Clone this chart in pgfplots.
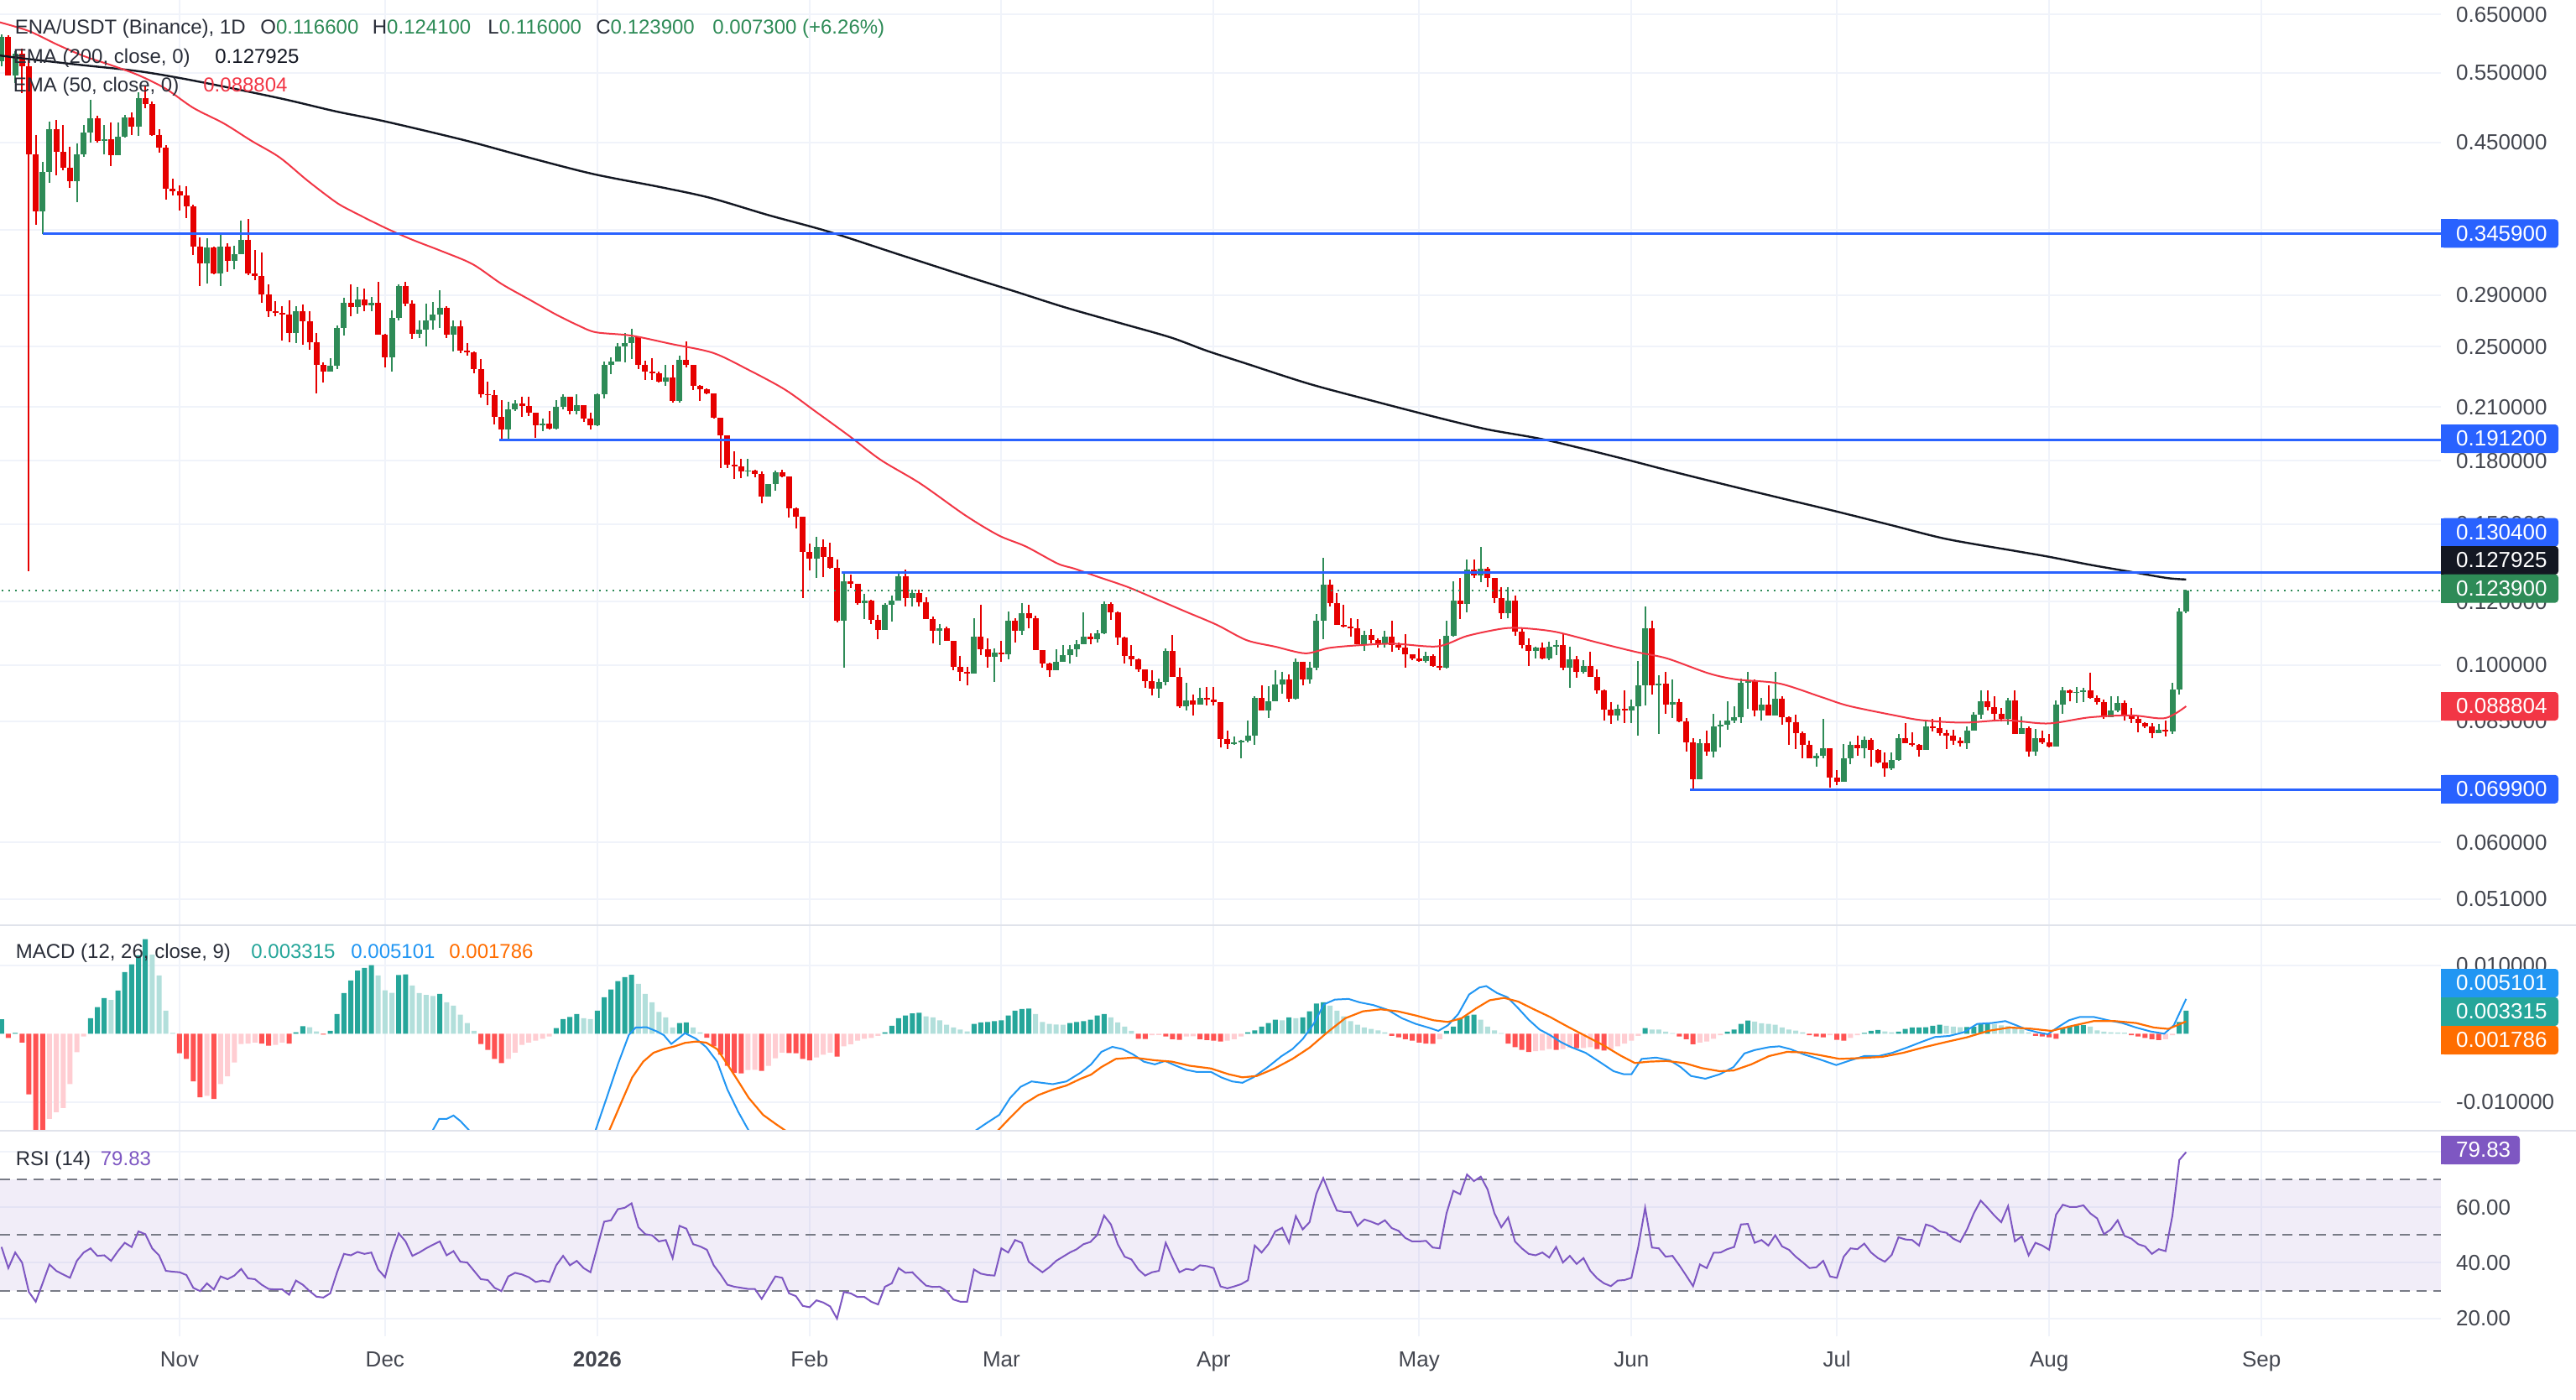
\documentclass[border=0pt]{standalone}
\usepackage{fontspec}
\setmainfont{Liberation Sans}
\usepackage{pgfplots}
\usepackage{pgfplotstable}
\pgfplotsset{compat=1.18}

\definecolor{cup}{HTML}{2E8B57}
\definecolor{cdn}{HTML}{E60000}
\definecolor{emaA}{HTML}{F23645}
\definecolor{emaB}{HTML}{131722}
\definecolor{hl}{HTML}{2962FF}
\definecolor{gridc}{HTML}{F0F3FA}
\definecolor{sepc}{HTML}{E0E3EB}
\definecolor{axt}{HTML}{43464F}
\definecolor{lgt}{HTML}{2A2E39}
\definecolor{mblue}{HTML}{2196F3}
\definecolor{morange}{HTML}{FF6D00}
\definecolor{hdk}{HTML}{26A69A}
\definecolor{hlt}{HTML}{B2DFDB}
\definecolor{hrd}{HTML}{FF5252}
\definecolor{hpk}{HTML}{FFCDD2}
\definecolor{rsic}{HTML}{7E57C2}
\definecolor{dashc}{HTML}{787B86}

\newcommand\axf{\fontsize{13pt}{15pt}\selectfont}
\newcommand\hdf{\fontsize{12pt}{14pt}\selectfont}

\pgfplotstableread{
d o h l c
-26 0.568 0.614 0.560 0.610
-25 0.610 0.613 0.545 0.546
-24 0.546 0.585 0.534 0.5805
-23 0.5805 0.590 0.5185 0.560
-22 0.560 0.572 0.131 0.435
-21 0.435 0.460 0.355 0.369
-20 0.369 0.4256 0.3459 0.413
-19 0.413 0.478 0.4005 0.4676
-18 0.4676 0.480 0.4094 0.4375
-17 0.4375 0.4729 0.4155 0.4186
-16 0.4186 0.4448 0.3947 0.4026
-15 0.4026 0.4488 0.3789 0.435
-14 0.435 0.4729 0.432 0.4625
-13 0.4625 0.5081 0.450 0.4818
-12 0.4818 0.486 0.450 0.4523
-11 0.4523 0.473 0.435 0.4545
-10 0.4545 0.477 0.4207 0.4337
-9 0.4337 0.476 0.434 0.4574
-8 0.4574 0.487 0.456 0.4835
-7 0.4835 0.490 0.460 0.4713
-6 0.4713 0.5197 0.459 0.5111
-5 0.5111 0.5283 0.496 0.5025
-4 0.5025 0.506 0.459 0.4599
-3 0.4599 0.467 0.437 0.4434
-2 0.4434 0.446 0.3818 0.3938
-1 0.3938 0.405 0.386 0.391
0 0.391 0.398 0.370 0.386
1 0.386 0.397 0.3622 0.3747
2 0.3747 0.376 0.3254 0.3335
3 0.3335 0.342 0.2977 0.318
4 0.318 0.3417 0.300 0.3324
5 0.3324 0.333 0.3075 0.3086
6 0.3086 0.3459 0.2977 0.3335
7 0.3335 0.3366 0.3103 0.3197
8 0.3197 0.334 0.312 0.3262
9 0.3262 0.3596 0.326 0.3402
10 0.3402 0.3608 0.307 0.3086
11 0.3086 0.330 0.303 0.3065
12 0.3065 0.3274 0.2833 0.2905
13 0.2905 0.299 0.272 0.2768
14 0.2768 0.285 0.2726 0.2755
15 0.2755 0.281 0.2542 0.2742
16 0.2742 0.2857 0.2533 0.2598
17 0.2598 0.2808 0.2528 0.2768
18 0.2768 0.2824 0.2515 0.2686
19 0.2686 0.2768 0.2476 0.2533
20 0.2533 0.260 0.2184 0.237
21 0.237 0.2391 0.2257 0.2326
22 0.2326 0.2417 0.2326 0.2365
23 0.2365 0.2658 0.2345 0.2638
24 0.2638 0.2877 0.2581 0.2835
25 0.2835 0.2987 0.2726 0.2803
26 0.2803 0.2968 0.2751 0.2861
27 0.2861 0.2954 0.2769 0.2815
28 0.2815 0.2882 0.277 0.2835
29 0.2835 0.3011 0.2584 0.2584
30 0.2584 0.2595 0.2352 0.2423
31 0.2423 0.2776 0.2325 0.2712
32 0.2712 0.2994 0.2695 0.2976
33 0.2976 0.3013 0.281 0.2827
34 0.2827 0.2853 0.2555 0.2595
35 0.2595 0.2695 0.2565 0.2622
36 0.2622 0.2829 0.2503 0.2695
37 0.2695 0.2842 0.2622 0.2743
38 0.2743 0.294 0.2638 0.2795
39 0.2795 0.2806 0.2565 0.2586
40 0.2586 0.2695 0.2464 0.2649
41 0.2649 0.2695 0.2451 0.2472
42 0.2472 0.2525 0.2433 0.2460
43 0.2460 0.2465 0.2317 0.2341
44 0.2341 0.2413 0.2157 0.2181
45 0.2181 0.2262 0.211 0.2172
46 0.2172 0.2208 0.1999 0.204
47 0.204 0.2141 0.1912 0.197
48 0.197 0.2135 0.1912 0.2089
49 0.2089 0.2143 0.2078 0.2123
50 0.2123 0.2166 0.204 0.2106
51 0.2106 0.2166 0.2048 0.2065
52 0.2065 0.2068 0.1922 0.1994
53 0.1994 0.2031 0.1958 0.2003
54 0.2003 0.2078 0.1970 0.1975
55 0.1975 0.2142 0.1970 0.2102
56 0.2102 0.2177 0.2085 0.2163
57 0.2163 0.2165 0.2059 0.2077
58 0.2077 0.218 0.2057 0.211
59 0.211 0.2112 0.2011 0.2031
60 0.2031 0.2069 0.197 0.1994
61 0.1994 0.2184 0.1990 0.2177
62 0.2177 0.2394 0.2151 0.2371
63 0.2371 0.2424 0.2310 0.2396
64 0.2396 0.2525 0.2396 0.2504
65 0.2504 0.2599 0.2387 0.2525
66 0.2525 0.2633 0.2413 0.2566
67 0.2566 0.2566 0.2342 0.2373
68 0.2373 0.240 0.227 0.2327
69 0.2327 0.2419 0.227 0.2316
70 0.2316 0.2325 0.2254 0.2262
71 0.2262 0.2372 0.2231 0.2287
72 0.2287 0.2372 0.2130 0.2136
73 0.2136 0.2437 0.2127 0.2406
74 0.2406 0.2535 0.2355 0.2371
75 0.2371 0.2371 0.2204 0.2233
76 0.2233 0.2236 0.2136 0.2211
77 0.2211 0.2215 0.2177 0.2185
78 0.2185 0.2185 0.2030 0.2036
79 0.2036 0.2036 0.1763 0.1937
80 0.1937 0.1937 0.1763 0.178
81 0.178 0.1848 0.1707 0.1772
82 0.1772 0.1808 0.1714 0.1744
83 0.1744 0.1808 0.1719 0.1751
84 0.1751 0.1752 0.1716 0.1734
85 0.1734 0.1745 0.1592 0.1623
86 0.1623 0.1683 0.1623 0.1683
87 0.1683 0.175 0.1650 0.174
88 0.174 0.1754 0.1715 0.172
89 0.172 0.172 0.153 0.1568
90 0.1568 0.1575 0.1481 0.1533
91 0.1533 0.1533 0.1211 0.1384
92 0.1384 0.1419 0.1313 0.1357
93 0.1357 0.1447 0.1283 0.1404
94 0.1404 0.1434 0.1287 0.1366
95 0.1366 0.1422 0.1319 0.1322
96 0.1322 0.1356 0.1129 0.1137
97 0.1137 0.1304 0.0993 0.1273
98 0.1273 0.1297 0.1248 0.1263
99 0.1263 0.1263 0.119 0.1195
100 0.1195 0.1228 0.1140 0.1203
101 0.1203 0.1205 0.1124 0.1138
102 0.1138 0.1155 0.1077 0.1107
103 0.1107 0.1195 0.1107 0.119
104 0.119 0.1222 0.1133 0.1203
105 0.1203 0.1306 0.1203 0.1291
106 0.1291 0.1315 0.1184 0.1211
107 0.1211 0.1243 0.1184 0.1231
108 0.1231 0.1243 0.1183 0.1199
109 0.1199 0.1214 0.1141 0.1141
110 0.1141 0.1149 0.1064 0.1102
111 0.1102 0.1126 0.1059 0.111
112 0.111 0.1117 0.1071 0.1071
113 0.1071 0.1071 0.0986 0.0995
114 0.0995 0.1027 0.0955 0.0981
115 0.0981 0.0995 0.0942 0.0976
116 0.0976 0.1143 0.0976 0.1086
117 0.1086 0.1190 0.1029 0.1047
118 0.1047 0.1080 0.0991 0.1024
119 0.1024 0.105 0.0952 0.1037
120 0.1037 0.1071 0.1009 0.1030
121 0.1030 0.1165 0.1016 0.1137
122 0.1137 0.1143 0.1067 0.1104
123 0.1104 0.1195 0.109 0.1162
124 0.1162 0.1189 0.1112 0.1143
125 0.1143 0.1152 0.1043 0.1043
126 0.1043 0.1043 0.0993 0.1003
127 0.1003 0.1006 0.0965 0.0986
128 0.0986 0.1046 0.0985 0.1009
129 0.1009 0.1059 0.1009 0.1029
130 0.1029 0.1059 0.1003 0.1045
131 0.1045 0.1075 0.1024 0.1062
132 0.1062 0.1163 0.1062 0.1085
133 0.1085 0.1095 0.1062 0.1078
134 0.1078 0.1106 0.1066 0.1095
135 0.1095 0.1202 0.1092 0.1192
136 0.1192 0.1198 0.1138 0.1163
137 0.1163 0.1167 0.1059 0.1083
138 0.1083 0.1085 0.1003 0.1027
139 0.1027 0.1058 0.0998 0.1016
140 0.1016 0.1020 0.0981 0.0987
141 0.0987 0.0988 0.0937 0.0954
142 0.0954 0.0986 0.0916 0.0935
143 0.0935 0.0962 0.0910 0.0952
144 0.0952 0.1048 0.0942 0.1040
145 0.1040 0.1090 0.0965 0.0965
146 0.0965 0.0991 0.0884 0.0888
147 0.0888 0.0950 0.0877 0.0902
148 0.0902 0.0919 0.0864 0.0893
149 0.0893 0.0937 0.0893 0.0910
150 0.0910 0.0939 0.0891 0.0906
151 0.0906 0.0938 0.0890 0.0898
152 0.0898 0.0898 0.0788 0.0809
153 0.0809 0.0828 0.0786 0.0797
154 0.0797 0.0814 0.0795 0.0801
155 0.0801 0.0806 0.0765 0.0805
156 0.0805 0.0853 0.0801 0.0816
157 0.0816 0.0913 0.0795 0.0910
158 0.0910 0.0942 0.0877 0.0877
159 0.0877 0.0940 0.0858 0.0900
160 0.0900 0.0986 0.0900 0.0945
161 0.0945 0.0981 0.0920 0.0960
162 0.0960 0.0974 0.0899 0.0908
163 0.0908 0.1018 0.0905 0.1010
164 0.1010 0.1010 0.0944 0.0960
165 0.0960 0.1010 0.0947 0.0991
166 0.0991 0.1157 0.0984 0.1135
167 0.1135 0.1360 0.1078 0.1261
168 0.1261 0.1279 0.1183 0.1195
169 0.1195 0.1231 0.1121 0.1121
170 0.1121 0.1190 0.1114 0.1116
171 0.1116 0.1143 0.1086 0.1110
172 0.1110 0.1140 0.1061 0.1061
173 0.1061 0.1104 0.1040 0.1091
174 0.1091 0.1109 0.1063 0.1075
175 0.1075 0.1080 0.1052 0.1063
176 0.1063 0.1104 0.1052 0.1086
177 0.1086 0.1135 0.1038 0.1059
178 0.1059 0.1067 0.1043 0.1052
179 0.1052 0.1093 0.0993 0.1031
180 0.1031 0.1031 0.1013 0.1018
181 0.1018 0.1050 0.1010 0.1012
182 0.1012 0.1038 0.1006 0.1027
183 0.1027 0.1030 0.0995 0.0998
184 0.0998 0.1077 0.0986 0.0993
185 0.0993 0.1135 0.0990 0.1088
186 0.1088 0.1271 0.1085 0.1203
187 0.1203 0.1284 0.1140 0.1192
188 0.1192 0.1354 0.1163 0.1315
189 0.1315 0.1354 0.1284 0.1295
190 0.1295 0.1403 0.1270 0.1318
191 0.1318 0.1325 0.1252 0.1283
192 0.1283 0.1283 0.1195 0.1211
193 0.1211 0.1252 0.1140 0.1160
194 0.1160 0.1252 0.1143 0.1203
195 0.1203 0.1222 0.1088 0.1100
196 0.1100 0.1112 0.1050 0.1059
197 0.1059 0.1080 0.0998 0.1040
198 0.1040 0.1055 0.1018 0.1052
199 0.1052 0.1067 0.1016 0.1018
200 0.1018 0.1070 0.1015 0.1053
201 0.1053 0.1075 0.1029 0.1059
202 0.1059 0.1095 0.0986 0.0993
203 0.0993 0.1055 0.0937 0.1016
204 0.1016 0.1027 0.0963 0.0981
205 0.0981 0.1014 0.0976 0.0997
206 0.0997 0.1038 0.0967 0.0967
207 0.0967 0.0988 0.0920 0.0930
208 0.0930 0.0932 0.0853 0.0880
209 0.0880 0.0899 0.0843 0.0864
210 0.0864 0.0893 0.0853 0.0882
211 0.0882 0.0930 0.0846 0.0877
212 0.0877 0.0906 0.0846 0.0887
213 0.0887 0.1011 0.0815 0.0942
214 0.0942 0.1182 0.0891 0.1112
215 0.1112 0.1137 0.0918 0.0942
216 0.0942 0.0970 0.0820 0.0948
217 0.0948 0.0981 0.0869 0.0892
218 0.0892 0.0960 0.0858 0.0898
219 0.0898 0.0908 0.0849 0.0850
220 0.0850 0.0858 0.0779 0.0801
221 0.0801 0.0810 0.0699 0.0719
222 0.0719 0.0809 0.0719 0.0799
223 0.0799 0.0828 0.0771 0.0780
224 0.0780 0.0869 0.0767 0.0838
225 0.0838 0.0853 0.0788 0.0842
226 0.0842 0.0900 0.0829 0.0853
227 0.0853 0.0888 0.0845 0.0860
228 0.0860 0.0962 0.0846 0.0949
229 0.0949 0.0981 0.0882 0.0954
230 0.0954 0.0958 0.0863 0.0877
231 0.0877 0.0909 0.0852 0.0892
232 0.0892 0.0942 0.0864 0.0864
233 0.0864 0.0981 0.0864 0.0908
234 0.0908 0.0913 0.0842 0.0861
235 0.0861 0.0863 0.0795 0.0849
236 0.0849 0.0867 0.0786 0.0821
237 0.0821 0.0826 0.0765 0.0795
238 0.0795 0.0804 0.0764 0.0765
239 0.0765 0.0775 0.0746 0.0771
240 0.0771 0.0856 0.0764 0.0787
241 0.0787 0.0787 0.0703 0.0723
242 0.0723 0.0739 0.0708 0.0715
243 0.0715 0.0797 0.0714 0.0765
244 0.0765 0.0803 0.0752 0.0794
245 0.0794 0.0816 0.0771 0.0787
246 0.0787 0.0814 0.0765 0.0806
247 0.0806 0.0810 0.0746 0.0784
248 0.0784 0.0786 0.0753 0.0755
249 0.0755 0.0777 0.0725 0.0743
250 0.0743 0.0777 0.0739 0.0760
251 0.0760 0.0820 0.0758 0.0810
252 0.0810 0.0845 0.0798 0.0799
253 0.0799 0.0823 0.0791 0.0795
254 0.0795 0.0796 0.0769 0.0784
255 0.0784 0.0851 0.0783 0.0838
256 0.0838 0.0856 0.0825 0.0833
257 0.0833 0.0861 0.0816 0.0821
258 0.0821 0.0830 0.0786 0.0816
259 0.0816 0.0830 0.0795 0.0804
260 0.0804 0.0811 0.0791 0.0798
261 0.0798 0.0837 0.0785 0.0828
262 0.0828 0.0874 0.0828 0.0867
263 0.0867 0.0930 0.0857 0.0900
264 0.0900 0.0929 0.0877 0.0885
265 0.0885 0.0913 0.0850 0.0869
266 0.0869 0.0883 0.0850 0.0857
267 0.0857 0.0910 0.0842 0.0902
268 0.0902 0.0930 0.0819 0.0819
269 0.0819 0.0863 0.0819 0.0834
270 0.0834 0.0838 0.0769 0.0779
271 0.0779 0.0831 0.0771 0.0810
272 0.0810 0.0828 0.0797 0.0801
273 0.0801 0.0819 0.0788 0.0791
274 0.0791 0.0903 0.0791 0.0892
275 0.0892 0.0939 0.0869 0.0930
276 0.0930 0.0932 0.0900 0.0922
277 0.0922 0.0939 0.0897 0.0926
278 0.0926 0.0937 0.0899 0.0930
279 0.0930 0.0979 0.0908 0.0910
280 0.0910 0.0916 0.0892 0.0899
281 0.0899 0.0906 0.0856 0.0861
282 0.0861 0.0913 0.0861 0.0878
283 0.0878 0.0915 0.0872 0.0897
284 0.0897 0.0903 0.0853 0.0865
285 0.0865 0.0883 0.0845 0.0857
286 0.0857 0.0863 0.0823 0.0845
287 0.0845 0.0849 0.0834 0.0837
288 0.0837 0.0845 0.0810 0.0821
289 0.0821 0.0843 0.0821 0.0830
290 0.0830 0.0853 0.0814 0.0826
291 0.0826 0.0949 0.0820 0.0932
292 0.0932 0.1178 0.0918 0.1166
293 0.1166 0.1241 0.1160 0.1239
}\candles

\pgfplotstableread{
d p
-26.3 0.578
-23.6 0.574
-15 0.563
-5.8 0.552
2.3 0.537
14.6 0.511
22.8 0.492
30 0.478
41.5 0.453
50 0.433
60.3 0.411
70 0.396
77.5 0.3836
86 0.365
94.7 0.3482
105 0.326
115 0.3059
122 0.293
129.1 0.2802
137 0.268
144.7 0.2567
150 0.247
155.6 0.2383
165 0.2245
175 0.213
183.8 0.2037
191 0.197
199.4 0.1912
210.3 0.1815
218 0.1745
226 0.1678
234 0.1615
241.6 0.1558
250 0.1495
258 0.1437
267.9 0.1389
272.8 0.1366
279 0.1334
285 0.1307
290.3 0.1284
293 0.1279
}\emaslow

\pgfplotstableread{
d p
-26.3 0.636
-22 0.620
-18 0.597
-14 0.577
-10 0.562
-6 0.546
-2 0.525
2 0.497
6.5 0.475
10.5 0.452
14.6 0.431
18.7 0.403
22.8 0.379
25.2 0.369
30 0.352
34 0.340
38.3 0.3290
42.8 0.3169
47 0.2995
51 0.2865
55 0.2741
58.3 0.2655
60.8 0.2605
66 0.2580
71.8 0.2519
77.9 0.2455
83 0.2340
88.4 0.2209
93 0.2070
98 0.1927
102.4 0.1804
108.2 0.1685
114.7 0.1539
119.6 0.1452
123.6 0.1406
128.2 0.1339
130.6 0.1320
134.3 0.1287
138.5 0.1251
142.9 0.1206
147 0.1165
151.5 0.1122
155.8 0.1074
160 0.1054
164.4 0.1034
167.8 0.1050
172 0.1058
177.3 0.1063
183.7 0.1055
188 0.1087
193.1 0.1110
196 0.1112
200.9 0.1100
207 0.1067
212.7 0.1038
217.2 0.1019
223.3 0.0976
227.4 0.0959
233.6 0.0948
239.7 0.0912
243.7 0.0889
250.7 0.0864
254.4 0.0853
260.5 0.0847
266.6 0.0853
272.8 0.0845
278.9 0.0860
285 0.0865
289.9 0.0858
293 0.0888
}\emafast

\pgfplotstableread{
d v k
-26 2.10e-3 1
-25 -0.62e-3 3
-24 0.12e-3 1
-23 -1.31e-3 3
-22 -8.90e-3 3
-21 -16.0e-3 3
-20 -17.0e-3 3
-19 -12.5e-3 4
-18 -11.5e-3 4
-17 -10.9e-3 4
-16 -7.4e-3 4
-15 -2.7e-3 4
-14 -0.4e-3 4
-13 2.26e-3 1
-12 3.90e-3 1
-11 5.21e-3 1
-10 4.93e-3 2
-9 6.32e-3 1
-8 9.03e-3 1
-7 10.18e-3 1
-6 11.5e-3 1
-5 13.87e-3 1
-4 11.58e-3 2
-3 8.54e-3 2
-2 3.37e-3 2
-1 0.12e-3 2
0 -2.87e-3 3
1 -3.69e-3 3
2 -6.98e-3 3
3 -9.32e-3 3
4 -9.12e-3 4
5 -9.57e-3 3
6 -7.39e-3 4
7 -6.24e-3 4
8 -4.23e-3 4
9 -1.52e-3 4
10 -1.44e-3 4
11 -1.31e-3 4
12 -1.45e-3 3
13 -1.77e-3 3
14 -1.64e-3 4
15 -1.31e-3 4
16 -1.44e-3 3
17 0.20e-3 1
18 1.10e-3 1
19 0.94e-3 2
20 0.33e-3 2
21 -0.12e-3 3
22 0.41e-3 1
23 2.87e-3 1
24 5.95e-3 1
25 7.80e-3 1
26 9.24e-3 1
27 9.65e-3 1
28 10.06e-3 1
29 8.54e-3 2
30 6.36e-3 2
31 6.00e-3 2
32 8.60e-3 1
33 8.70e-3 1
34 7.06e-3 2
35 5.95e-3 2
36 5.67e-3 2
37 5.54e-3 2
38 5.83e-3 1
39 4.60e-3 2
40 4.10e-3 2
41 2.79e-3 2
42 1.56e-3 2
43 0.41e-3 2
44 -1.52e-3 3
45 -2.38e-3 3
46 -3.69e-3 3
47 -4.31e-3 3
48 -3.69e-3 4
49 -2.79e-3 4
50 -1.64e-3 4
51 -1.31e-3 4
52 -1.03e-3 4
53 -0.74e-3 4
54 -0.41e-3 4
55 0.82e-3 1
56 2.13e-3 1
57 2.46e-3 1
58 2.87e-3 1
59 2.26e-3 2
60 2.13e-3 2
61 3.37e-3 1
62 5.34e-3 1
63 6.49e-3 1
64 7.72e-3 1
65 8.29e-3 1
66 8.62e-3 1
67 7.30e-3 2
68 5.83e-3 2
69 4.60e-3 2
70 3.20e-3 2
71 2.38e-3 2
72 0.90e-3 2
73 1.56e-3 1
74 1.64e-3 1
75 0.90e-3 2
76 0.20e-3 2
77 -0.60e-3 3
78 -1.85e-3 3
79 -3.08e-3 3
80 -4.72e-3 3
81 -5.75e-3 3
82 -5.83e-3 3
83 -5.34e-3 4
84 -5.30e-3 4
85 -5.46e-3 3
86 -4.72e-3 4
87 -3.61e-3 4
88 -2.79e-3 4
89 -2.85e-3 3
90 -2.87e-3 3
91 -3.69e-3 3
92 -3.90e-3 3
93 -3.49e-3 4
94 -3.08e-3 4
95 -2.79e-3 4
96 -3.37e-3 3
97 -1.85e-3 4
98 -1.56e-3 4
99 -1.03e-3 4
100 -0.74e-3 4
101 -0.62e-3 4
102 -0.33e-3 4
103 0.20e-3 1
104 1.15e-3 1
105 2.26e-3 1
106 2.67e-3 1
107 2.96e-3 1
108 3.08e-3 1
109 2.55e-3 2
110 2.38e-3 2
111 1.97e-3 2
112 1.31e-3 2
113 0.90e-3 2
114 0.62e-3 2
115 0.33e-3 2
116 1.44e-3 1
117 1.64e-3 1
118 1.72e-3 1
119 1.85e-3 1
120 1.97e-3 1
121 2.67e-3 1
122 3.37e-3 1
123 3.61e-3 1
124 3.69e-3 1
125 2.87e-3 2
126 1.72e-3 2
127 1.44e-3 2
128 1.35e-3 2
129 1.31e-3 2
130 1.56e-3 1
131 1.72e-3 1
132 1.85e-3 1
133 2.05e-3 1
134 2.67e-3 1
135 2.87e-3 1
136 2.38e-3 2
137 1.64e-3 2
138 1.03e-3 2
139 0.41e-3 2
140 -0.74e-3 3
141 -0.78e-3 3
142 -0.21e-3 4
143 -0.18e-3 4
144 -0.41e-3 3
145 -0.82e-3 3
146 -0.90e-3 3
147 -0.41e-3 4
148 -0.38e-3 4
149 -0.82e-3 3
150 -0.92e-3 3
151 -1.03e-3 3
152 -1.15e-3 3
153 -1.03e-3 4
154 -0.82e-3 4
155 -0.41e-3 4
156 0.21e-3 1
157 0.49e-3 1
158 1.03e-3 1
159 1.56e-3 1
160 2.05e-3 1
161 1.97e-3 2
162 2.38e-3 1
163 2.26e-3 2
164 2.38e-3 1
165 3.28e-3 1
166 4.43e-3 1
167 4.60e-3 1
168 4.11e-3 2
169 3.37e-3 2
170 2.55e-3 2
171 1.85e-3 2
172 1.31e-3 2
173 0.90e-3 2
174 0.70e-3 2
175 0.49e-3 2
176 0.21e-3 2
177 -0.33e-3 3
178 -0.53e-3 3
179 -0.82e-3 3
180 -1.03e-3 3
181 -1.31e-3 3
182 -1.44e-3 3
183 -1.48e-3 3
184 -0.82e-3 4
185 0.41e-3 1
186 1.03e-3 1
187 2.26e-3 1
188 2.67e-3 1
189 2.79e-3 1
190 2.05e-3 2
191 1.03e-3 2
192 0.49e-3 2
193 0.08e-3 2
194 -1.44e-3 3
195 -1.97e-3 3
196 -2.38e-3 3
197 -2.67e-3 3
198 -2.55e-3 4
199 -2.46e-3 4
200 -2.26e-3 4
201 -2.38e-3 3
202 -2.26e-3 4
203 -2.05e-3 4
204 -2.13e-3 3
205 -2.10e-3 4
206 -1.97e-3 4
207 -2.26e-3 3
208 -2.46e-3 3
209 -2.26e-3 4
210 -1.85e-3 4
211 -1.44e-3 4
212 -1.03e-3 4
213 -0.33e-3 4
214 0.82e-3 1
215 0.62e-3 2
216 0.60e-3 2
217 0.29e-3 2
218 0.08e-3 2
219 -0.41e-3 3
220 -0.82e-3 3
221 -1.56e-3 3
222 -1.31e-3 4
223 -1.15e-3 4
224 -0.74e-3 4
225 -0.21e-3 4
226 0.29e-3 1
227 0.62e-3 1
228 1.44e-3 1
229 1.93e-3 1
230 1.77e-3 2
231 1.52e-3 2
232 1.44e-3 2
233 1.31e-3 2
234 0.90e-3 2
235 0.62e-3 2
236 0.45e-3 2
237 0.21e-3 2
238 -0.21e-3 3
239 -0.41e-3 3
240 -0.53e-3 3
241 -0.21e-3 4
242 -0.90e-3 3
243 -1.03e-3 3
244 -0.62e-3 4
245 -0.21e-3 4
246 0.12e-3 1
247 0.41e-3 1
248 0.53e-3 1
249 0.33e-3 2
250 0.21e-3 2
251 0.29e-3 1
252 0.70e-3 1
253 0.90e-3 1
254 0.92e-3 1
255 0.94e-3 1
256 1.15e-3 1
257 1.31e-3 1
258 1.15e-3 2
259 1.03e-3 2
260 0.94e-3 2
261 0.98e-3 1
262 1.00e-3 1
263 1.44e-3 1
264 1.46e-3 1
265 1.40e-3 2
266 1.23e-3 2
267 1.11e-3 2
268 0.85e-3 2
269 0.62e-3 2
270 0.21e-3 2
271 -0.33e-3 3
272 -0.41e-3 3
273 -0.53e-3 3
274 -0.74e-3 3
275 0.82e-3 1
276 1.15e-3 1
277 1.23e-3 1
278 1.25e-3 1
279 1.03e-3 2
280 0.49e-3 2
281 0.29e-3 2
282 0.21e-3 2
283 0.19e-3 2
284 0.16e-3 2
285 -0.21e-3 3
286 -0.41e-3 3
287 -0.62e-3 3
288 -0.82e-3 3
289 -0.94e-3 3
290 -0.82e-3 4
291 -0.21e-3 4
292 1.72e-3 1
293 3.37e-3 1
}\hist

\pgfplotstableread{
d v
-26 -26e-3
-20 -35e-3
-10 -40e-3
0 -40e-3
10 -35e-3
20 -28e-3
30 -20e-3
36.9 -14.3e-3
37.9 -12.5e-3
39 -12.5e-3
40 -12.0e-3
41 -12.8e-3
42.4 -14.3e-3
45 -17e-3
50 -20e-3
55 -19e-3
58 -16e-3
60.7 -14.3e-3
62.5 -9.0e-3
64 -4.5e-3
65.6 -0.2e-3
66.6 0.9e-3
68.2 0.95e-3
69.7 0.33e-3
70.7 -0.2e-3
71.8 -1.5e-3
72.8 -0.74e-3
73.8 0.08e-3
75.4 -0.74e-3
76.9 -1.97e-3
78.5 -4.1e-3
80 -8.2e-3
81.6 -11.5e-3
83.1 -14.2e-3
85 -17e-3
90 -22e-3
100 -24e-3
110 -19e-3
114 -16e-3
116.1 -14.3e-3
117.7 -13.2e-3
119.7 -11.9e-3
121.3 -9.4e-3
122.8 -7.8e-3
124.4 -7.0e-3
125.9 -7.2e-3
127.5 -7.4e-3
129.5 -7.0e-3
131.6 -5.7e-3
133.1 -4.5e-3
134.6 -2.67e-3
136.2 -1.93e-3
137.7 -2.26e-3
139.3 -3.08e-3
140.8 -4.1e-3
142.4 -4.5e-3
143.9 -4.0e-3
145.5 -4.7e-3
147 -5.3e-3
148.5 -5.6e-3
150.6 -5.6e-3
152.1 -6.4e-3
153.7 -7.0e-3
155.2 -7.2e-3
156.8 -6.4e-3
158.9 -4.9e-3
160.9 -3.3e-3
162.5 -2.26e-3
164 -0.8e-3
165.6 1.44e-3
167.1 4.3e-3
168.7 5.0e-3
170.7 5.1e-3
172.3 4.6e-3
174.3 4.2e-3
176.4 3.5e-3
178.5 2.26e-3
180.5 1.44e-3
182.6 0.82e-3
183.8 0.41e-3
185.2 1.23e-3
186.7 2.87e-3
188.3 5.75e-3
189.8 6.77e-3
190.8 6.98e-3
192.4 5.95e-3
193.9 5.34e-3
195.5 3.7e-3
197 2.05e-3
198.6 0.6e-3
200.1 -0.2e-3
201.7 -1.23e-3
203.2 -1.97e-3
205.3 -2.8e-3
207.3 -4.1e-3
209.4 -5.5e-3
210.9 -5.95e-3
212 -5.95e-3
213.5 -3.7e-3
215.6 -3.5e-3
217.6 -3.9e-3
219.2 -4.9e-3
220.7 -6.2e-3
222.8 -6.6e-3
224.9 -5.95e-3
226.9 -4.9e-3
228.5 -2.9e-3
230 -2.4e-3
232.1 -1.97e-3
233.6 -1.85e-3
235.2 -2.26e-3
237.3 -3.08e-3
239.3 -3.7e-3
241.9 -4.6e-3
244 -3.9e-3
246 -3.28e-3
248.1 -3.28e-3
250.1 -2.8e-3
252.2 -2.05e-3
254.3 -1.23e-3
256.3 -0.49e-3
258.4 -0.33e-3
260.5 0.2e-3
262.5 1.44e-3
264.6 1.56e-3
266.6 1.85e-3
268.2 1.23e-3
269.7 0.62e-3
271.3 0.2e-3
272.8 -0.08e-3
274.4 1.03e-3
275.9 1.97e-3
277.5 2.46e-3
279.5 2.46e-3
281.6 1.97e-3
283.7 1.56e-3
285.7 0.9e-3
287.8 0.33e-3
289.8 0.0
291.2 1.23e-3
293 5.10e-3
}\macdline

\pgfplotstableread{
d v
-26 -24e-3
-10 -33e-3
0 -38e-3
20 -30e-3
40 -18.5e-3
55 -17e-3
62.7 -14.3e-3
64.6 -9.85e-3
66.1 -6.4e-3
67.7 -4.1e-3
69.2 -2.8e-3
70.7 -2.26e-3
72.3 -1.85e-3
73.8 -1.35e-3
75.4 -1.15e-3
76.9 -1.31e-3
78.5 -2.26e-3
80 -4.5e-3
81.6 -7.0e-3
83.1 -9.4e-3
85.2 -11.9e-3
87 -13.2e-3
88.6 -14.3e-3
95 -18e-3
105 -21e-3
112 -19e-3
119.4 -14.3e-3
121.3 -12.3e-3
123.3 -10.3e-3
125.4 -9.0e-3
127.5 -8.2e-3
129.5 -7.6e-3
131.6 -6.6e-3
133.1 -6.0e-3
134.6 -4.9e-3
136.7 -3.7e-3
139.3 -3.5e-3
142.4 -3.9e-3
144.9 -4.1e-3
147.5 -4.7e-3
150.6 -5.1e-3
153.2 -5.95e-3
155.2 -6.4e-3
157.3 -6.2e-3
159.9 -5.1e-3
162.5 -3.7e-3
165 -2.05e-3
167.6 0.2e-3
170.2 2.26e-3
172.8 3.28e-3
175.4 3.57e-3
177.9 3.28e-3
180.5 2.67e-3
183.1 1.97e-3
185.2 1.72e-3
187.2 2.26e-3
189.3 3.7e-3
191.3 4.9e-3
193.4 5.25e-3
195.5 4.7e-3
197.5 3.7e-3
200.1 2.46e-3
202.7 1.03e-3
205.3 -0.33e-3
207.8 -1.64e-3
210.4 -3.2e-3
212.5 -4.3e-3
214.6 -4.1e-3
217.1 -4.0e-3
219.7 -4.3e-3
222.3 -5.05e-3
224.9 -5.5e-3
226.9 -5.4e-3
229.5 -4.5e-3
232.1 -3.28e-3
234.7 -2.67e-3
237.3 -2.75e-3
239.8 -3.2e-3
242.4 -3.7e-3
245.5 -3.57e-3
248.6 -3.4e-3
251.7 -2.8e-3
254.8 -1.97e-3
257.9 -1.23e-3
261 -0.53e-3
264.1 0.41e-3
267.2 0.9e-3
270.3 0.74e-3
273.3 0.41e-3
276.4 1.15e-3
279.5 1.85e-3
282.6 1.85e-3
285.7 1.56e-3
288.3 0.9e-3
290.4 0.7e-3
293 1.79e-3
}\signalline

\pgfplotstableread{
d r
-26 45.7
-25 38.1
-24 43.7
-23 40.1
-22 29.5
-21 26.0
-20 32.6
-19 39.4
-18 37.1
-17 35.8
-16 34.6
-15 40.7
-14 43.7
-13 45.2
-12 42.5
-11 42.7
-10 40.7
-9 44.2
-8 47.2
-7 45.7
-6 51.3
-5 50.3
-4 45.2
-3 42.7
-2 37.1
-1 36.8
0 36.6
1 35.6
2 31.0
3 29.8
4 32.6
5 30.4
6 35.1
7 34.1
8 35.4
9 37.8
10 34.4
11 34.1
12 32.1
13 30.6
14 30.4
15 30.4
16 28.5
17 33.6
18 32.1
19 29.8
20 27.8
21 27.5
22 29.0
23 36.6
24 43.2
25 42.7
26 43.9
27 43.2
28 43.7
29 37.6
30 34.8
31 43.7
32 50.6
33 47.7
34 42.5
35 43.7
36 45.2
37 46.5
38 47.7
39 42.7
40 44.2
41 40.4
42 40.1
43 37.1
44 34.1
45 33.8
46 31.0
47 29.8
48 35.1
49 36.4
50 35.8
51 34.8
52 33.1
53 33.6
54 33.1
55 39.1
56 42.5
57 39.1
58 40.7
59 38.1
60 36.6
61 45.7
62 54.8
63 55.3
64 59.3
65 59.8
66 61.4
67 52.8
68 50.3
69 49.9
70 47.7
71 48.2
72 41.7
73 53.3
74 52.3
75 46.7
76 45.9
77 44.7
78 39.1
79 35.8
80 32.1
81 31.4
82 31.0
83 30.6
84 30.6
85 27.0
86 31.0
87 35.1
88 34.6
89 29.0
90 28.0
91 24.5
92 24.0
93 26.5
94 25.7
95 24.3
96 19.9
97 29.5
98 29.0
99 27.7
100 27.7
101 26.0
102 25.0
103 31.4
104 32.6
105 38.1
106 36.4
107 36.6
108 34.1
109 31.8
110 31.3
111 31.4
112 29.8
113 26.8
114 26.0
115 26.0
116 37.6
117 36.1
118 35.6
119 35.4
120 45.2
121 43.7
122 48.2
123 47.2
124 40.4
125 38.4
126 36.6
127 38.4
128 40.7
129 42.2
130 43.7
131 44.9
132 46.7
133 47.5
134 50.0
135 57.0
136 53.8
137 46.7
138 42.2
139 41.2
140 37.6
141 35.4
142 36.6
143 37.1
144 47.2
145 41.7
146 36.6
147 37.8
148 37.4
149 39.1
150 38.8
151 38.1
152 31.5
153 30.8
154 31.5
155 32.3
156 33.7
157 46.2
158 43.7
159 46.7
160 51.3
161 52.6
162 47.2
163 56.8
164 52.0
165 54.6
166 64.9
167 70.5
168 64.4
169 58.8
170 58.3
171 58.3
172 53.3
173 55.6
174 54.8
175 53.8
176 55.3
177 52.5
178 51.5
179 48.9
180 47.7
181 47.7
182 47.9
183 45.5
184 45.2
185 57.8
186 65.9
187 64.7
188 71.8
189 69.4
190 71.0
191 66.4
192 57.8
193 52.8
194 56.3
195 47.7
196 45.2
197 43.2
198 42.7
199 43.7
200 41.9
201 45.7
202 40.1
203 42.5
204 39.6
205 41.7
206 37.1
207 34.4
208 32.6
209 31.6
210 33.6
211 33.8
212 34.6
213 45.7
214 59.8
215 45.5
216 45.2
217 42.2
218 42.5
219 39.1
220 35.4
221 31.6
222 39.4
223 38.1
224 43.6
225 43.7
226 44.9
227 45.7
228 53.8
229 54.0
230 47.2
231 48.2
232 46.2
233 49.9
234 45.9
235 44.7
236 42.2
237 40.2
238 38.1
239 38.4
240 40.7
241 35.1
242 34.6
243 42.2
244 45.2
245 44.9
246 46.9
247 43.7
248 41.7
249 40.4
250 42.8
251 49.2
252 48.4
253 48.2
254 46.2
255 53.8
256 53.0
257 51.3
258 50.8
259 48.7
260 47.5
261 52.0
262 57.8
263 62.4
264 59.8
265 57.0
266 54.6
267 60.4
268 47.7
269 49.5
270 42.7
271 47.2
272 46.2
273 44.7
274 57.3
275 60.9
276 60.1
277 60.1
278 60.7
279 57.8
280 56.0
281 50.3
282 52.0
283 55.3
284 49.7
285 48.7
286 46.7
287 45.9
288 43.2
289 44.9
290 44.2
291 57.0
292 77.0
293 79.83
}\rsi

\pgfplotsset{
  tvbase/.style={
    scale only axis, width=1454.5pt, xmin=-26.22, xmax=330.2,
    axis line style={draw=none}, major tick length=0pt, tick style={draw=none},
    scaled y ticks=false, scaled x ticks=false,
    xtick={0,30,61,92,120,151,181,212,242,273,304},
    grid=major, major grid style={draw=gridc, line width=1pt},
    yticklabel pos=right,
    yticklabel style={font=\axf, text=axt, anchor=west, inner sep=0pt, xshift=8.85pt},
    clip=true,
  },
}

\begin{document}
\begin{tikzpicture}
\path[use as bounding box] (0,0) rectangle (1535pt,-834.5pt);
\fill[white] (0,0) rectangle (1535pt,-834.5pt);

% ---------------- price panel ----------------
\begin{axis}[tvbase, at={(0pt,0pt)}, anchor=north west, height=551pt,
  ymin=-1.324295, ymax=-0.168843,
  ytick={-0.187087,-0.259637,-0.346787,-0.455932,-0.537602,-0.602060,-0.677781,-0.744727,-0.823909,-0.920819,-1,-1.070581,-1.221849,-1.292430},
  yticklabels={0.650000,0.550000,0.450000,0.350000,0.290000,0.250000,0.210000,0.180000,0.150000,0.120000,0.100000,0.085000,0.060000,0.051000},
  xticklabels={}]
% wicks
\addplot[forget plot, draw=none, mark=none,
  restrict expr to domain={\thisrow{c}-\thisrow{o}}{0:10},
  error bars/.cd, y dir=minus, y explicit, error mark=none,
  error bar style={draw=cup, line width=1pt, solid}]
  table[x=d, y expr={log10(\thisrow{h})}, y error minus expr={log10(\thisrow{h})-log10(\thisrow{l})}]{\candles};
\addplot[forget plot, draw=none, mark=none,
  restrict expr to domain={\thisrow{o}-\thisrow{c}}{0.0000001:10},
  error bars/.cd, y dir=minus, y explicit, error mark=none,
  error bar style={draw=cdn, line width=1pt, solid}]
  table[x=d, y expr={log10(\thisrow{h})}, y error minus expr={log10(\thisrow{h})-log10(\thisrow{l})}]{\candles};
% bodies
\addplot[forget plot, draw=none, mark=none,
  restrict expr to domain={\thisrow{c}-\thisrow{o}}{0:10},
  error bars/.cd, y dir=minus, y explicit, error mark=none,
  error bar style={draw=cup, line width=3.5pt, solid}]
  table[x=d, y expr={log10(\thisrow{c})}, y error minus expr={log10(\thisrow{c})-log10(\thisrow{o})}]{\candles};
\addplot[forget plot, draw=none, mark=none,
  restrict expr to domain={\thisrow{o}-\thisrow{c}}{0.0000001:10},
  error bars/.cd, y dir=minus, y explicit, error mark=none,
  error bar style={draw=cdn, line width=3.5pt, solid}]
  table[x=d, y expr={log10(\thisrow{o})}, y error minus expr={log10(\thisrow{o})-log10(\thisrow{c})}]{\candles};
% EMAs
\addplot[emaB, line width=1.2pt, smooth, tension=0.5] table[x=d, y expr={log10(\thisrow{p})}]{\emaslow};
\addplot[emaA, line width=1pt, smooth, tension=0.5] table[x=d, y expr={log10(\thisrow{p})}]{\emafast};
% horizontal levels
\addplot[hl, line width=1.5pt] table[row sep=\\, x=d, y expr={log10(\thisrow{p})}]{d p\\ -20 0.3459\\ 332 0.3459\\};
\addplot[hl, line width=1.5pt] table[row sep=\\, x=d, y expr={log10(\thisrow{p})}]{d p\\ 46.7 0.1912\\ 332 0.1912\\};
\addplot[hl, line width=1.5pt] table[row sep=\\, x=d, y expr={log10(\thisrow{p})}]{d p\\ 96.7 0.1304\\ 332 0.1304\\};
\addplot[hl, line width=1.5pt] table[row sep=\\, x=d, y expr={log10(\thisrow{p})}]{d p\\ 220.6 0.0699\\ 332 0.0699\\};
% last price line
\addplot[cup, line width=1pt, dash pattern=on 1pt off 3pt] table[row sep=\\, x=d, y expr={log10(\thisrow{p})}]{d p\\ -27 0.1239\\ 332 0.1239\\};
\end{axis}

% ---------------- MACD panel ----------------
\begin{axis}[tvbase, at={(0pt,-551.5pt)}, anchor=north west, height=122pt,
  ymin=-0.014108, ymax=0.015904,
  ytick={-0.01,0.01}, yticklabels={-0.010000,0.010000},
  xticklabels={}]
\addplot[forget plot, ybar, bar width=3pt, bar shift=0pt, fill=hdk, draw=none,
  restrict expr to domain={\thisrow{k}}{0.5:1.5}] table[x=d, y=v]{\hist};
\addplot[forget plot, ybar, bar width=3pt, bar shift=0pt, fill=hlt, draw=none,
  restrict expr to domain={\thisrow{k}}{1.5:2.5}] table[x=d, y=v]{\hist};
\addplot[forget plot, ybar, bar width=3pt, bar shift=0pt, fill=hrd, draw=none,
  restrict expr to domain={\thisrow{k}}{2.5:3.5}] table[x=d, y=v]{\hist};
\addplot[forget plot, ybar, bar width=3pt, bar shift=0pt, fill=hpk, draw=none,
  restrict expr to domain={\thisrow{k}}{3.5:4.5}] table[x=d, y=v]{\hist};
\addplot[mblue, line width=1pt] table[x=d, y=v]{\macdline};
\addplot[morange, line width=1.1pt] table[x=d, y=v]{\signalline};
\end{axis}

% ---------------- RSI panel ----------------
\begin{axis}[tvbase, at={(0pt,-674.5pt)}, anchor=north west, height=122pt,
  ymin=13.56, ymax=87.23,
  ytick={20,40,60,80}, yticklabels={20.00,40.00,60.00,80.00},
  xticklabels={Nov,Dec,\textbf{2026},Feb,Mar,Apr,May,Jun,Jul,Aug,Sep},
  xticklabel style={font=\axf, text=axt, anchor=base, inner sep=0pt, yshift=-18.3pt}]
\addplot[draw=none, fill=rsic, fill opacity=0.1, forget plot] coordinates {(-30,30) (335,30) (335,70) (-30,70) (-30,30)};
\addplot[dashc, line width=1pt, dash pattern=on 6pt off 4pt] coordinates {(-26.22,70) (332,70)};
\addplot[dashc, line width=1pt, dash pattern=on 6pt off 4pt] coordinates {(-26.22,50) (332,50)};
\addplot[dashc, line width=1pt, dash pattern=on 6pt off 4pt] coordinates {(-26.22,30) (332,30)};
\addplot[rsic, line width=1pt] table[x=d, y=r]{\rsi};
\end{axis}

% pane separators
\fill[sepc] (0,-551pt) rectangle (1535pt,-552pt);
\fill[sepc] (0,-673.6pt) rectangle (1535pt,-674.6pt);

% price scale labels (square left edge, rounded right edge)
\newcommand\plabel[4]{% y, colour, text, width
  \fill[#2, rounded corners=2pt] (1454.5pt,#1+8.5pt) rectangle (1454.5pt+#4,#1-8.5pt);
  \fill[#2] (1454.5pt,#1+8.5pt) rectangle (1464.5pt,#1-8.5pt);
  \node[anchor=west, inner sep=0pt, font=\axf, text=white] at (1463.35pt,#1) {#3};}
\plabel{-139.25pt}{hl}{0.345900}{70pt}
\plabel{-261.5pt}{hl}{0.191200}{70pt}
\plabel{-317.3pt}{hl}{0.130400}{70pt}
\plabel{-334pt}{emaB}{0.127925}{70pt}
\plabel{-350.8pt}{cup}{0.123900}{70pt}
\plabel{-421pt}{emaA}{0.088804}{70pt}
\plabel{-470.4pt}{hl}{0.069900}{70pt}
\plabel{-586pt}{mblue}{0.005101}{70pt}
\plabel{-603pt}{hdk}{0.003315}{70pt}
\plabel{-620pt}{morange}{0.001786}{70pt}
\plabel{-685.5pt}{rsic}{79.83}{47pt}

% legends
\begin{scope}[every node/.style={anchor=base west, inner sep=0pt, font=\hdf, text=lgt}]
\node at (8.75pt,-20.3pt) {ENA/USDT (Binance), 1D};
\node at (155pt,-20.3pt) {O\textcolor{cup}{0.116600}};
\node at (221.75pt,-20.3pt) {H\textcolor{cup}{0.124100}};
\node at (290.5pt,-20.3pt) {L\textcolor{cup}{0.116000}};
\node at (355pt,-20.3pt) {C\textcolor{cup}{0.123900}};
\node[text=cup] at (424.5pt,-20.3pt) {0.007300 (+6.26\%)};
\node at (7.75pt,-37.8pt) {EMA (200, close, 0)};
\node[text=emaB] at (128pt,-37.8pt) {0.127925};
\node at (7.75pt,-54.8pt) {EMA (50, close, 0)};
\node[text=emaA] at (121pt,-54.8pt) {0.088804};
\node at (9.25pt,-571.3pt) {MACD (12, 26, close, 9)};
\node[text=hdk] at (149.5pt,-571.3pt) {0.003315};
\node[text=mblue] at (209pt,-571.3pt) {0.005101};
\node[text=morange] at (267.5pt,-571.3pt) {0.001786};
\node at (9.25pt,-694.8pt) {RSI (14)};
\node[text=rsic] at (59.75pt,-694.8pt) {79.83};
\end{scope}
\end{tikzpicture}
\end{document}
